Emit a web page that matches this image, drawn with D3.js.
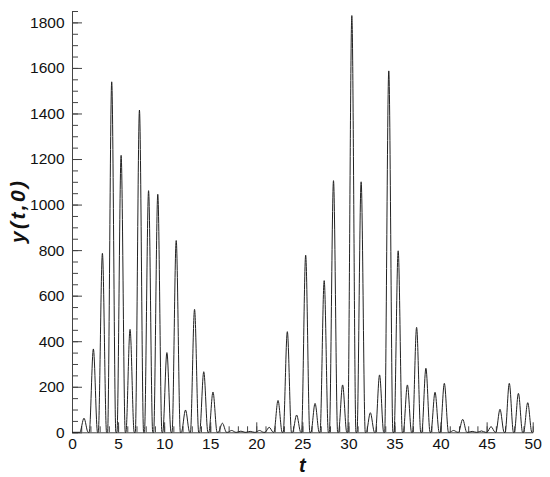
<!DOCTYPE html>
<html>
<head>
<meta charset="utf-8">
<script src="https://cdn.jsdelivr.net/npm/d3@7"></script>
<style>
    html, body { margin: 0; padding: 0; background: #fff; }
    svg { display: block; font-family: Arial, "Liberation Sans", sans-serif; }
</style>
</head>
<body>
<script>
// peak positions (t) and peak heights of y(t,0)
const PEAK_T = [
    1.3, 2.32, 3.3, 4.31, 5.33, 6.3, 7.32, 8.31, 9.31, 10.3,
    11.31, 12.32, 13.3, 14.3, 15.3, 16.32, 17.33, 18.33, 19.34, 20.35,
    21.4, 22.36, 23.37, 24.38, 25.36, 26.38, 27.37, 28.38, 29.37, 30.37,
    31.38, 32.38, 33.38, 34.38, 35.4, 36.4, 37.4, 38.41, 39.4, 40.41,
    41.42, 42.4, 43.43, 44.44, 45.48, 46.45, 47.46, 48.45, 49.46
];
const PEAK_Y = [
    62, 366, 786, 1539, 1216, 452, 1415, 1061, 1045, 350,
    842, 98, 540, 266, 177, 40, 8, 5, 4, 8,
    22, 140, 442, 76, 778, 127, 666, 1105, 208, 1830,
    1100, 86, 252, 1587, 797, 208, 461, 281, 176, 215,
    8, 57, 4, 6, 25, 101, 215, 171, 130
];
const X_TICKS = [0, 5, 10, 15, 20, 25, 30, 35, 40, 45, 50];
const Y_TICKS = [0, 200, 400, 600, 800, 1000, 1200, 1400, 1600, 1800];

const WIDTH = 550;
const HEIGHT = 477;
const HALF_BASE = 0.45;

// points of the line: each peak sits on two zero points
const buildLineData = () => {
    let points = [[0, 0]];
    PEAK_T.forEach((t, i) => {
        points.push([t - HALF_BASE, 0]);
        points.push([t, PEAK_Y[i]]);
        points.push([t + HALF_BASE, 0]);
    });
    points.push([50, 0]);
    return points;
};

const svg = d3.select("body").append("svg")
    .attr("width", WIDTH)
    .attr("height", HEIGHT);

const xScale = d3.scaleLinear().domain([0, 50]).range([72, 532.7]);
const yScale = d3.scaleLinear().domain([0, 1850]).range([432.3, 11]);

// minor ticks first, majors on top
svg.append("g")
    .attr("transform", `translate(0, ${yScale(0)})`)
    .call(d3.axisBottom(xScale).tickValues(d3.range(0, 51, 1)).tickSize(-6).tickSizeOuter(0).tickFormat(""))
    .call(g => g.select(".domain").remove());
svg.append("g")
    .attr("transform", `translate(${xScale(0)}, 0)`)
    .call(d3.axisLeft(yScale).tickValues(d3.range(0, 1851, 50)).tickSize(-6).tickSizeOuter(0).tickFormat(""))
    .call(g => g.select(".domain").remove());

svg.append("g")
    .attr("id", "x-axis")
    .attr("transform", `translate(0, ${yScale(0)})`)
    .call(d3.axisBottom(xScale).tickValues(X_TICKS).tickSize(-10).tickSizeOuter(0)
        .tickPadding(6).tickFormat(d3.format("d")));
svg.append("g")
    .attr("id", "y-axis")
    .attr("transform", `translate(${xScale(0)}, 0)`)
    .call(d3.axisLeft(yScale).tickValues(Y_TICKS).tickSize(-10).tickSizeOuter(0)
        .tickPadding(7.5).tickFormat(d3.format("d")));

svg.selectAll(".tick line").attr("stroke", "#444");
svg.selectAll(".domain").attr("stroke", "#444");
svg.selectAll(".tick text")
    .attr("font-size", "15.5px")
    .attr("font-family", "Arial, 'Liberation Sans', sans-serif")
    .attr("fill", "#111");

const line = d3.line()
    .x(d => xScale(d[0]))
    .y(d => yScale(d[1]))
    .curve(d3.curveMonotoneX);

svg.append("path")
    .datum(buildLineData())
    .attr("fill", "none")
    .attr("stroke", "#222")
    .attr("stroke-width", 1)
    .attr("d", line);

svg.append("text")
    .attr("x", xScale(25))
    .attr("y", 472)
    .attr("text-anchor", "middle")
    .attr("font-size", "20px")
    .attr("font-weight", "bold")
    .attr("font-style", "italic")
    .attr("fill", "#111")
    .text("t");

svg.append("text")
    .attr("transform", "translate(25, 212) rotate(-90)")
    .attr("text-anchor", "middle")
    .attr("font-size", "21px")
    .attr("font-weight", "bold")
    .attr("font-style", "italic")
    .attr("fill", "#111")
    .attr("textLength", 62)
    .attr("lengthAdjust", "spacing")
    .text("y(t,0)");
</script>
</body>
</html>
